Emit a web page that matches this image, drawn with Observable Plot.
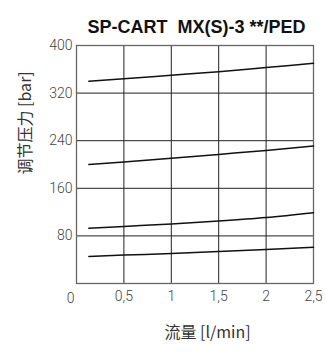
<!DOCTYPE html>
<html><head><meta charset="utf-8">
<script src="https://cdn.jsdelivr.net/npm/d3@7"></script>
<script src="https://cdn.jsdelivr.net/npm/@observablehq/plot@0.6"></script>
<style>body{margin:0;background:#fff}</style>
</head><body><div id="chart"></div>
<script>
const flow = [0.13, 0.5, 1, 1.5, 2, 2.5];
const curve1 = [340, 344, 350, 356, 363, 370];
const curve2 = [200, 204, 210.5, 217, 223.5, 231];
const curve3 = [93, 96, 100, 105, 111, 119];
const curve4 = [45.5, 47.7, 50.5, 53.7, 57.2, 61];
const xTicks = [0.5, 1, 1.5, 2, 2.5];
const xTickLabels = ["0,5", "1", "1,5", "2", "2,5"];
const yTicks = [80, 160, 240, 320, 400];
const title = "SP-CART\u00a0\u00a0MX(S)-3 **/PED";
const xLabel = "流量 [l/min]";
const yLabel = "调节压力 [bar]";

const series = [curve1, curve2, curve3, curve4];
const rows = series.flatMap((s, i) => s.map((v, j) => ({x: flow[j], y: v, k: i})));
const tickFont = "Roboto, DejaVu Sans, sans-serif";
const labelFont = "Noto Sans CJK SC, Liberation Sans, sans-serif";

const plot = Plot.plot({
  width: 325, height: 352,
  marginTop: 45, marginBottom: 69, marginLeft: 76, marginRight: 12,
  style: {fontFamily: tickFont, background: "#fff"},
  x: {domain: [0, 2.5]},
  y: {domain: [0, 400]},
  marks: [
    Plot.gridX(xTicks.slice(0, 4), {stroke: "#222", strokeOpacity: 1, strokeWidth: 1}),
    Plot.gridY(yTicks.slice(0, 4), {stroke: "#222", strokeOpacity: 1, strokeWidth: 1}),
    Plot.frame({stroke: "#666", strokeWidth: 1.3}),
    Plot.axisX(xTicks, {tickSize: 0, tickPadding: 8, fontSize: 14, fontWeight: 300, fill: "#444", label: null, tickFormat: (d, i) => xTickLabels[i]}),
    Plot.text([0], {x: 0, y: 0, text: () => "0", dy: 10, dx: -6, fontSize: 14, fontWeight: 300, fill: "#444", lineAnchor: "top"}),
    Plot.axisY(yTicks, {tickSize: 0, tickPadding: 4, fontSize: 14, fontWeight: 300, fill: "#444", label: null}),
    Plot.line(rows, {x: "x", y: "y", z: "k", stroke: "#111", strokeWidth: 1.5, curve: "monotone-x"}),
    Plot.text([title], {frameAnchor: "top", dy: -25, dx: 1.5, fontFamily: "Liberation Sans, Arial, sans-serif", fontWeight: "bold", fontSize: 18, fill: "#111"}),
    Plot.text([xLabel], {frameAnchor: "bottom", dy: 54, dx: 12.5, fontFamily: labelFont, fontSize: 16, fill: "#333"}),
    Plot.text([yLabel], {frameAnchor: "left", rotate: -90, dx: -51, dy: 10, fontFamily: labelFont, fontSize: 16, fill: "#333"})
  ]
});
document.getElementById("chart").appendChild(plot);
</script></body></html>
